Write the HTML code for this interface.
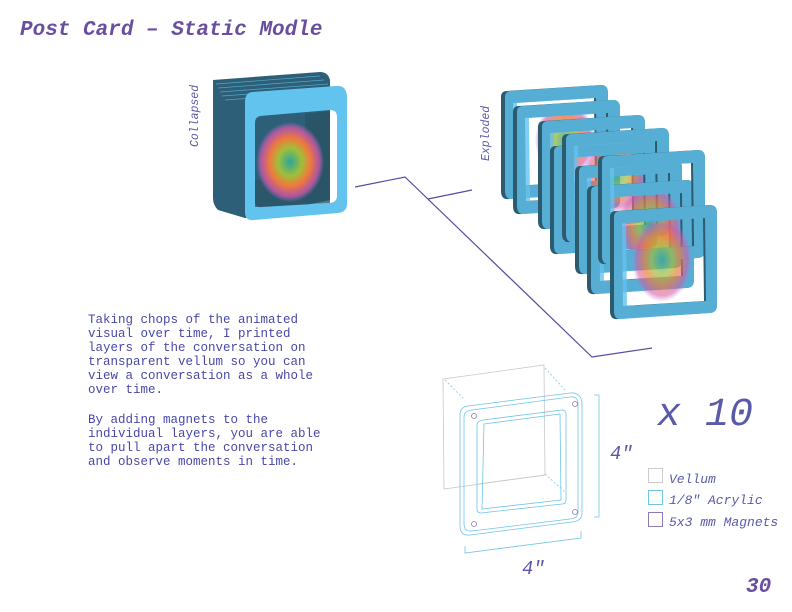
<!DOCTYPE html>
<html><head><meta charset="utf-8"><style>
body{margin:0;background:#fff}
svg{display:block}
.m{font-family:"Liberation Mono",monospace}
</style></head><body>
<svg width="792" height="612" viewBox="0 0 792 612" xmlns="http://www.w3.org/2000/svg">
<defs>
<radialGradient id="blob" cx="50%" cy="50%" r="50%">
<stop offset="0" stop-color="#2aa59a"/><stop offset="0.35" stop-color="#9fbf3a"/><stop offset="0.6" stop-color="#f07a3a"/><stop offset="0.85" stop-color="#d457a8" stop-opacity="0.8"/><stop offset="1" stop-color="#c070d0" stop-opacity="0"/>
</radialGradient>
<g id="fr">
<path d="M6,6 L100,0 Q107,0 107,8 L107,100 Q107,108 99,108 L8,114 Q0,115 0,106 L0,12 Q0,6 6,6 Z M12,18 L93,13 L94,96 L13,101 Z" fill="#2c5a6e" fill-rule="evenodd"/>
<path d="M10,6 L100,0 Q107,0 107,8 L107,100 Q107,108 99,108 L12,114 Q4,115 4,106 L4,12 Q4,6 10,6 Z M16,18 L95,13 L96,96 L17,101 Z" fill="#63c3ef" fill-opacity="0.8" fill-rule="evenodd"/>
</g>
</defs>
<text x="20" y="35" class="m" font-size="21" font-weight="bold" font-style="italic" fill="#6a4fa0">Post Card – Static Modle</text>

<!-- collapsed -->
<text transform="translate(198,147) rotate(-90)" class="m" font-size="11.5" font-style="italic" fill="#5a5aa8">Collapsed</text>
<g>
<path d="M213,80 L320,72 Q328,72 330,80 L330,200 L245,218 L218,210 Q213,205 213,198 Z" fill="#2d5f78"/>
<g stroke="#5fb7dd" stroke-width="0.7" opacity="0.8">
<line x1="216" y1="84" x2="320" y2="76"/><line x1="218" y1="88" x2="324" y2="80"/><line x1="220" y1="92" x2="328" y2="84"/><line x1="222" y1="96" x2="332" y2="88"/><line x1="225" y1="100" x2="336" y2="92"/>
</g>
<path d="M252,92 L336,86 Q346,85 347,96 L347,204 Q347,212 338,213 L254,220 Q245,221 245,212 L245,102 Q245,93 252,92 Z M260,116 L330,110 Q337,110 337,117 L337,196 Q337,202 330,203 L262,207 Q255,208 255,201 L255,123 Q255,117 260,116 Z" fill="#63c3ef" fill-rule="evenodd"/>
<path d="M305,114 L330,111 L330,200 L305,202 Z" fill="#2a5568"/>
<path d="M255,180 L330,176 L330,203 L255,207 Z" fill="#2a5568" opacity="0.8"/>
<ellipse cx="290" cy="162" rx="34" ry="40" fill="url(#blob)"/>
</g>
<polyline points="355,187 405,177 592,357 652,348" fill="none" stroke="#5a4aa0" stroke-width="1.2"/>
<line x1="428" y1="199" x2="472" y2="190" stroke="#5a4aa0" stroke-width="1.2"/>

<!-- exploded -->
<text transform="translate(489,161) rotate(-90)" class="m" font-size="11.5" font-style="italic" fill="#5a5aa8">Exploded</text>
<use href="#fr" x="501" y="85"/>
<ellipse cx="565" cy="140" rx="30" ry="38" fill="url(#blob)" opacity="0.8"/>
<use href="#fr" x="513" y="100"/>
<use href="#fr" x="538" y="115"/>
<ellipse cx="615" cy="175" rx="32" ry="38" fill="url(#blob)" opacity="0.7"/>
<use href="#fr" x="550" y="140"/>
<use href="#fr" x="562" y="128"/>
<use href="#fr" x="575" y="160"/>
<ellipse cx="650" cy="225" rx="32" ry="40" fill="url(#blob)" opacity="0.7"/>
<use href="#fr" x="587" y="180"/>
<use href="#fr" x="598" y="150"/>
<ellipse cx="662" cy="260" rx="30" ry="42" fill="url(#blob)" opacity="0.7"/>
<use href="#fr" x="610" y="205"/>

<!-- paragraph -->
<g class="m" font-size="12.5" fill="#4848a8">
<text x="88" y="323">Taking chops of the animated</text>
<text x="88" y="337">visual over time, I printed</text>
<text x="88" y="351">layers of the conversation on</text>
<text x="88" y="365">transparent vellum so you can</text>
<text x="88" y="379">view a conversation as a whole</text>
<text x="88" y="393">over time.</text>
<text x="88" y="423">By adding magnets to the</text>
<text x="88" y="437">individual layers, you are able</text>
<text x="88" y="451">to pull apart the conversation</text>
<text x="88" y="465">and observe moments in time.</text>
</g>

<!-- technical drawing -->
<g fill="none" stroke-width="0.8">
<path d="M443,379 L544,365 L545,475 L444,489 Z" stroke="#c8c8c8"/>
<line x1="445" y1="380" x2="465" y2="400" stroke="#7cc8e8" stroke-dasharray="2,2"/>
<line x1="545" y1="368" x2="565" y2="390" stroke="#7cc8e8" stroke-dasharray="2,2"/>
<line x1="545" y1="474" x2="565" y2="492" stroke="#7cc8e8" stroke-dasharray="2,2"/>
<path d="M468,406 L570,393 Q581,392 582,403 L582,513 Q582,521 572,522 L470,535 Q460,536 460,526 L460,415 Q460,407 468,406 Z" stroke="#6ec4e8"/>
<path d="M472,410 L570,397 Q578,396 578,404 L578,512 Q578,518 570,519 L472,531 Q464,532 464,524 L464,417 Q464,411 472,410 Z" stroke="#6ec4e8"/>
<path d="M483,420 L562,410 Q566,410 566,414 L566,500 Q566,504 562,504 L481,513 Q477,513 477,509 L477,425 Q477,421 483,420 Z" stroke="#6ec4e8"/>
<path d="M484,424 L560,414 L561,500 L482,509 Z" stroke="#6ec4e8"/>
<line x1="478" y1="484" x2="545" y2="475" stroke="#c8c8c8"/>
<circle cx="474" cy="416" r="2.5" stroke="#8a7ab8"/><circle cx="575" cy="404" r="2.5" stroke="#8a7ab8"/>
<circle cx="474" cy="524" r="2.5" stroke="#8a7ab8"/><circle cx="575" cy="512" r="2.5" stroke="#8a7ab8"/>
<polyline points="594,395 599,395 599,517 594,517" stroke="#6ec4e8"/>
<polyline points="465,546 465,553 581,538 581,531" stroke="#6ec4e8"/>
</g>
<g class="m" font-style="italic" fill="#5a5aa8">
<text x="610" y="459" font-size="19">4″</text>
<text x="522" y="574" font-size="19">4″</text>
<text x="657" y="425" font-size="40">x 10</text>
<text x="669" y="483" font-size="13">Vellum</text>
<text x="669" y="504" font-size="13">1/8″ Acrylic</text>
<text x="669" y="526" font-size="13">5x3 mm Magnets</text>
</g>
<rect x="648.5" y="468.5" width="14" height="14" fill="none" stroke="#ccc"/>
<rect x="648.5" y="490.5" width="14" height="14" fill="none" stroke="#6ec4e8"/>
<rect x="648.5" y="512.5" width="14" height="14" fill="none" stroke="#8a7ab8"/>
<text x="746" y="592" class="m" font-size="21" font-weight="bold" font-style="italic" fill="#6a4fa0">30</text>
</svg>
</body></html>
